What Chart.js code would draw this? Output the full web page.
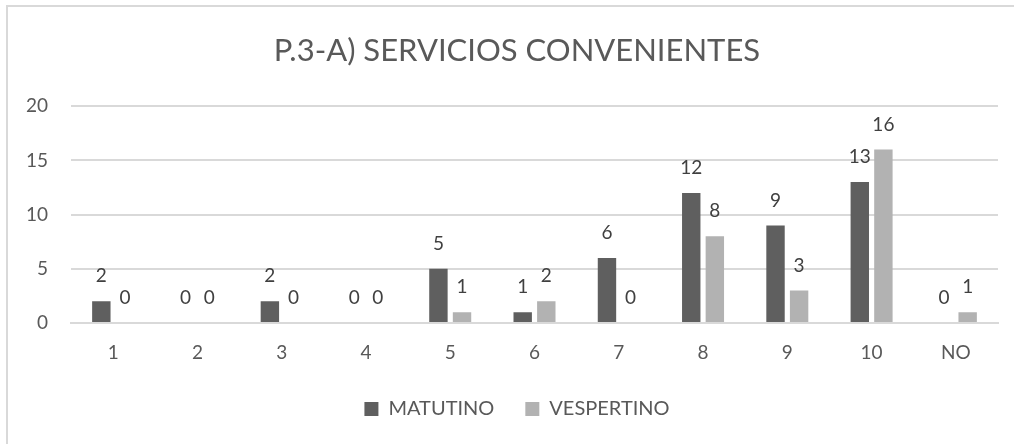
<!DOCTYPE html>
<html>
<head>
<meta charset="utf-8">
<script src="https://cdn.jsdelivr.net/npm/chart.js@4/dist/chart.umd.min.js"></script>
<style>
  html, body { margin: 0; padding: 0; background: #fff; overflow: hidden; }
  #frame {
    position: absolute; left: 6px; top: 5px; width: 1030px; height: 441px;
    border-top: 2px solid #d9d9d9; border-left: 2px solid #d9d9d9;
  }
  #wrap { position: absolute; left: 0; top: 0; width: 1018px; height: 437px; }
</style>
</head>
<body>
<div id="frame"><div id="wrap"><canvas id="chart"></canvas></div></div>
<script>
  const CATEGORIES = ["1", "2", "3", "4", "5", "6", "7", "8", "9", "10", "NO"];
  const MATUTINO = [2, 0, 2, 0, 5, 1, 6, 12, 9, 13, 0];
  const VESPERTINO = [0, 0, 0, 0, 1, 2, 0, 8, 3, 16, 1];
  const Y_TICKS = [0, 5, 10, 15, 20];

  const FONT = "Lato, 'Open Sans', sans-serif";
  const TEXT = "#595959";

  // value labels above each bar, like Excel's "outside end"
  const valueLabels = {
    id: "valueLabels",
    afterDatasetsDraw(chart) {
      const ctx = chart.ctx;
      ctx.save();
      ctx.font = `19px ${FONT}`;
      ctx.fillStyle = "#404040";
      ctx.textAlign = "center";
      ctx.textBaseline = "middle";
      chart.data.datasets.forEach((ds, i) => {
        chart.getDatasetMeta(i).data.forEach((el, j) => {
          ctx.fillText(String(ds.data[j]), el.x, el.y - 25);
        });
      });
      ctx.restore();
    }
  };

  new Chart(document.getElementById("chart"), {
    type: "bar",
    data: {
      labels: CATEGORIES,
      datasets: [
        { label: "MATUTINO", data: MATUTINO, backgroundColor: "#5f5f5f",
          categoryPercentage: 0.56, barPercentage: 0.78 },
        { label: "VESPERTINO", data: VESPERTINO, backgroundColor: "#b2b2b2",
          categoryPercentage: 0.56, barPercentage: 0.78 }
      ]
    },
    options: {
      responsive: true,
      maintainAspectRatio: false,
      animation: false,
      events: [],
      layout: { padding: { left: 0, right: 0, top: 0, bottom: 15 } },
      plugins: {
        title: {
          display: true,
          text: "P.3-A) SERVICIOS CONVENIENTES",
          color: TEXT,
          font: { family: FONT, size: 31, weight: "400" },
          padding: { top: 25, bottom: 37 }
        },
        legend: {
          position: "bottom",
          labels: {
            color: TEXT,
            font: { family: FONT, size: 20 },
            boxWidth: 14, boxHeight: 14,
            padding: 31
          }
        },
        tooltip: { enabled: false }
      },
      scales: {
        x: {
          afterFit(scale) { scale.height = 45; },
          grid: { display: false, drawTicks: false },
          border: { display: true, color: "#d9d9d9", width: 2 },
          ticks: { color: TEXT, font: { family: FONT, size: 19 }, padding: 18 }
        },
        y: {
          min: 0, max: 20,
          afterFit(scale) { scale.width = 63; },
          afterBuildTicks(scale) { scale.ticks = Y_TICKS.map(v => ({ value: v })); },
          grid: { color: "#d9d9d9", lineWidth: 2, drawTicks: false },
          border: { display: false },
          ticks: { color: TEXT, font: { family: FONT, size: 19 }, padding: 23 }
        },
        // empty right-hand spacer so the title and legend centre on the whole frame
        spacer: {
          position: "right",
          afterFit(scale) { scale.width = 28; },
          grid: { display: false, drawTicks: false },
          border: { display: false },
          ticks: { display: false }
        }
      }
    },
    plugins: [valueLabels]
  });
</script>
</body>
</html>
